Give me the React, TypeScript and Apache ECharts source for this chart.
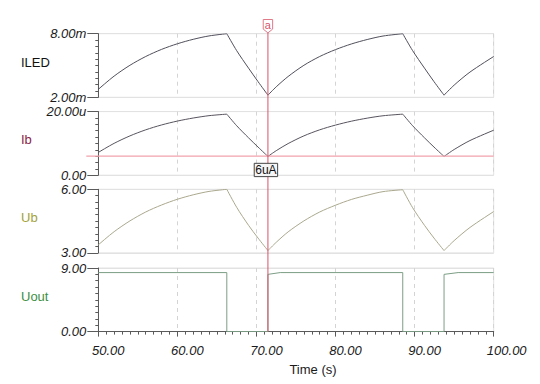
import React, { useEffect, useRef } from "react";
import * as echarts from "echarts";

// Time breakpoints of each curve segment (s)
const T_RISE1 = [50, 52, 54, 56, 58, 60, 62, 64, 66.25];
const T_FALL1 = [66.25, 67.5, 69, 70.2, 71.45];
const T_RISE2 = [71.45, 72.5, 74, 76, 78, 80, 82, 84, 86, 88.5];
const T_FALL2 = [88.5, 89.75, 91.25, 92.45, 93.72];
const T_RISE3 = [93.72, 95, 97, 100];
const SEGMENT_TIMES = [T_RISE1, T_FALL1, T_RISE2, T_FALL2, T_RISE3];

// ILED (mA)
const ILED_MA = [
  [2.75, 4.0, 5.02, 5.85, 6.52, 7.05, 7.47, 7.79, 8.0],
  [8.0, 6.4, 4.75, 3.48, 2.2],
  [2.2, 2.99, 3.96, 5.02, 5.85, 6.5, 7.03, 7.45, 7.78, 8.0],
  [8.0, 6.4, 4.75, 3.48, 2.2],
  [2.2, 3.15, 4.38, 5.85],
];
// Ib (uA)
const IB_UA = [
  [7.16, 10.02, 12.36, 14.27, 15.8, 17.02, 17.98, 18.72, 19.2],
  [19.2, 15.55, 11.75, 8.85, 5.9],
  [5.9, 7.71, 9.94, 12.37, 14.27, 15.76, 16.98, 17.94, 18.69, 19.2],
  [19.2, 15.55, 11.75, 8.85, 5.9],
  [5.9, 8.08, 10.9, 14.15],
];
// Ub (V)
const UB_V = [
  [3.38, 4.0, 4.51, 4.93, 5.26, 5.53, 5.74, 5.9, 6.0],
  [6.0, 5.15, 4.3, 3.7, 3.11],
  [3.11, 3.5, 3.99, 4.51, 4.93, 5.25, 5.52, 5.72, 5.89, 5.98],
  [5.98, 5.13, 4.3, 3.7, 3.11],
  [3.11, 3.58, 4.2, 4.95],
];
// Uout (V) step signal
const UOUT_T = [50, 66.25, 66.25, 71.45, 71.45, 73, 88.5, 88.5, 93.72, 93.72, 95.5, 100];
const UOUT_V = [8.35, 8.35, 0, 0, 8.1, 8.35, 8.35, 0, 0, 8.1, 8.35, 8.35];

// Cursor
const CURSOR_T = 71.45;
const CURSOR_IB = 6;
const CURSOR_NAME = "a";
const CURSOR_LABEL = "6uA";

const X_MIN = 50;
const X_MAX = 100;
const X_TICK = 10;

const PANEL_NAMES = ["ILED", "Ib", "Ub", "Uout"];
const PANEL_NAME_COLORS = ["#111111", "#8b2346", "#a3a23a", "#3d8f45"];
const CURVE_COLORS = ["#50505c", "#58545e", "#aaa88e", "#7c9e86"];
const Y_RANGES = [
  [2, 8],
  [0, 20],
  [3, 6],
  [0, 9],
];
const Y_SUFFIX = ["m", "u", "", ""];
const X_AXIS_TITLE = "Time (s)";

const FONT = "Liberation Sans";

export default function App() {
  const ref = useRef<HTMLDivElement>(null);

  useEffect(() => {
    if (!ref.current) return;
    const chart = echarts.init(ref.current, null, { renderer: "svg" });

    const tops = [33.7, 111.6, 189.3, 268];
    const gridH = 63.6;
    const grids = tops.map((t) => ({
      left: 98.3,
      top: t,
      width: 395.4,
      height: gridH,
      show: true,
      borderColor: "#e2e2e2",
      borderWidth: 1,
      backgroundColor: "transparent",
    }));

    const labelStyle = { fontFamily: FONT, fontStyle: "italic" as const, fontSize: 13, color: "#1a1a1a" };

    const xAxes = tops.map((_, i) => {
      const last = i === 3;
      return {
        type: "value",
        gridIndex: i,
        min: X_MIN,
        max: X_MAX,
        interval: X_TICK,
        axisLine: { show: last, lineStyle: { color: "#5a5a5a", width: 1 } },
        axisTick: { show: last, length: 5, lineStyle: { color: "#5a5a5a" } },
        minorTick: { show: last, splitNumber: 10, length: 3, lineStyle: { color: "#5a5a5a" } },
        axisLabel: {
          show: last,
          margin: 12,
          ...labelStyle,
          align: "center",
          formatter: (v: number) => (v >= 100 ? `{l|${v.toFixed(2)}}` : `{n|${v.toFixed(2)}}`),
          rich: {
            n: { padding: [0, 0, 0, 20], ...labelStyle },
            l: { padding: [0, 0, 0, 26], ...labelStyle },
          },
        },
        splitLine: { show: true, lineStyle: { color: "#d4d4d4", type: [4, 4], width: 1 } },
        minorSplitLine: { show: false },
      };
    });

    const yAxes = Y_RANGES.map(([mn, mx], i) => ({
      type: "value",
      gridIndex: i,
      min: mn,
      max: mx,
      interval: mx - mn,
      axisLine: { show: true, lineStyle: { color: "#5a5a5a", width: 1 } },
      axisTick: { show: true, length: 11, lineStyle: { color: "#5a5a5a" } },
      minorTick: { show: true, splitNumber: 10, length: 3, lineStyle: { color: "#5a5a5a" } },
      axisLabel: {
        show: true,
        margin: 12,
        ...labelStyle,
        showMinLabel: true,
        showMaxLabel: true,
        formatter: (v: number) => (v === 0 ? "0.00" : v.toFixed(2) + Y_SUFFIX[i]),
      },
      splitLine: { show: true, lineStyle: { color: "#e2e2e2", width: 1 } },
    }));

    const signals = [ILED_MA, IB_UA, UB_V];
    const series: any[] = [];
    signals.forEach((sig, gi) => {
      sig.forEach((vals, si) => {
        const ts = SEGMENT_TIMES[si];
        series.push({
          type: "line",
          xAxisIndex: gi,
          yAxisIndex: gi,
          data: ts.map((t, k) => [t, vals[k]]),
          showSymbol: false,
          symbol: "none",
          smooth: 0.3,
          lineStyle: { color: CURVE_COLORS[gi], width: 1 },
          silent: true,
        });
      });
    });
    series.push({
      type: "line",
      xAxisIndex: 3,
      yAxisIndex: 3,
      data: UOUT_T.map((t, k) => [t, UOUT_V[k]]),
      showSymbol: false,
      symbol: "none",
      lineStyle: { color: CURVE_COLORS[3], width: 1 },
      silent: true,
    });

    chart.setOption({
      animation: false,
      backgroundColor: "#ffffff",
      grid: grids,
      xAxis: xAxes,
      yAxis: yAxes,
      series,
    });

    const px = (axis: number, v: number) => chart.convertToPixel({ xAxisIndex: axis }, v) as number;
    const py = (axis: number, v: number) => chart.convertToPixel({ yAxisIndex: axis }, v) as number;

    const xc = px(3, CURSOR_T);
    const yTop = py(0, Y_RANGES[0][1]);
    const yBot = py(3, Y_RANGES[3][0]);
    const y6 = py(1, CURSOR_IB);
    const xL = px(1, X_MIN);
    const xR = px(1, X_MAX);

    const graphics: any[] = [];
    PANEL_NAMES.forEach((name, i) => {
      const mid = (py(i, Y_RANGES[i][0]) + py(i, Y_RANGES[i][1])) / 2 - 3.5;
      graphics.push({
        type: "text",
        x: 21,
        y: mid,
        style: {
          text: name,
          fill: PANEL_NAME_COLORS[i],
          font: `13px "${FONT}"`,
          verticalAlign: "middle",
          align: "left",
        },
      });
    });
    graphics.push({
      type: "text",
      x: (xL + xR) / 2 + 17,
      y: 369.5,
      style: { text: X_AXIS_TITLE, fill: "#1a1a1a", font: `13px "${FONT}"`, align: "center", verticalAlign: "middle" },
    });
    // horizontal cursor line in Ib panel
    graphics.push({
      type: "line",
      z: 50,
      shape: { x1: xL - 12, y1: y6, x2: xR, y2: y6 },
      style: { stroke: "#f2a3ad", lineWidth: 1.3 },
    });
    // vertical cursor line
    graphics.push({
      type: "line",
      z: 51,
      shape: { x1: xc, y1: yTop - 1, x2: xc, y2: yBot },
      style: { stroke: "#d9536a", lineWidth: 1 },
    });
    // marker "a"
    graphics.push({
      type: "polygon",
      z: 52,
      shape: {
        points: [
          [xc - 4.7, yTop - 14.2],
          [xc + 4.7, yTop - 14.2],
          [xc + 4.7, yTop - 4.6],
          [xc, yTop - 0.8],
          [xc - 4.7, yTop - 4.6],
        ],
      },
      style: { fill: "#ffffff", stroke: "#e07a88", lineWidth: 1 },
    });
    graphics.push({
      type: "text",
      z: 53,
      x: xc,
      y: yTop - 8.6,
      style: { text: CURSOR_NAME, fill: "#d9536a", font: `11px "${FONT}"`, align: "center", verticalAlign: "middle" },
    });
    // value box "6uA"
    graphics.push({
      type: "rect",
      z: 52,
      shape: { x: xc - 13.7, y: y6 + 7.2, width: 23.4, height: 13.3 },
      style: { fill: "#f5f5f5", stroke: "#444444", lineWidth: 1 },
    });
    graphics.push({
      type: "text",
      z: 53,
      x: xc - 2,
      y: y6 + 14,
      style: { text: CURSOR_LABEL, fill: "#111111", font: `12px "${FONT}"`, align: "center", verticalAlign: "middle" },
    });

    chart.setOption({ graphic: graphics });

    return () => chart.dispose();
  }, []);

  return (
    <div
      ref={ref}
      style={{ position: "absolute", left: 0, top: 0, width: 540, height: 384, background: "#fff" }}
    />
  );
}
